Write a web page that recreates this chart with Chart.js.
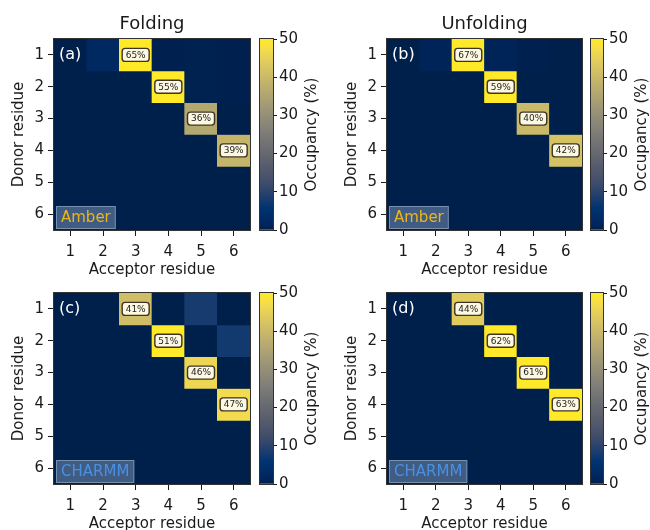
<!DOCTYPE html>
<html>
<head>
<meta charset="utf-8">
<script src="https://cdn.jsdelivr.net/npm/chart.js@4.4.1/dist/chart.umd.min.js"></script>
<style>
  html, body { margin: 0; padding: 0; background: #fff; width: 650px; height: 530px; overflow: hidden; }
  body { position: relative; }
  canvas { position: absolute; }
</style>
</head>
<body>
<script>
// Residue indices along each axis
const ACCEPTORS = ['1', '2', '3', '4', '5', '6'];
const DONORS = [1, 2, 3, 4, 5, 6];
// Colour bar ticks (occupancy, %) – the scale saturates at the last one
const CBAR_TICKS = [0, 10, 20, 30, 40, 50];
// Cells at or above this occupancy get a value label
const LABEL_MIN = 20;

// Hydrogen-bond occupancy (%), rows = donor residue, columns = acceptor residue
const amberFolding = [
  [0, 2.5, 65, 0.4, 0.6, 0.3],
  [0, 0, 0, 55, 0.6, 0.3],
  [0, 0, 0, 0, 36, 0],
  [0, 0, 0, 0, 0, 39],
  [0, 0, 0, 0, 0, 0],
  [0, 0, 0, 0, 0, 0]
];
const amberUnfolding = [
  [0, 1.2, 67, 1.2, 0.3, 0],
  [0, 0, 0, 59, 0, 0],
  [0, 0, 0, 0, 40, 0],
  [0, 0, 0, 0, 0, 42],
  [0, 0, 0, 0, 0, 0],
  [0, 0, 0, 0, 0, 0]
];
const charmmFolding = [
  [0, 0, 41, 0, 8, 0],
  [0, 0, 0, 51, 0, 7.5],
  [0, 0, 0, 0, 46, 0],
  [0, 0, 0, 0, 0, 47],
  [0, 0, 0, 0, 0, 0],
  [0, 0, 0, 0, 0, 0]
];
const charmmUnfolding = [
  [0, 0, 44, 0, 0, 0],
  [0, 0, 0, 62, 0, 0],
  [0, 0, 0, 0, 61, 0],
  [0, 0, 0, 0, 0, 63],
  [0, 0, 0, 0, 0, 0],
  [0, 0, 0, 0, 0, 0]
];

const INK = '#1a1a1a';
const FONT = "'DejaVu Sans', sans-serif";
Chart.defaults.font.family = FONT;
Chart.defaults.color = INK;

// cividis colour map
const CIVIDIS = [
  [0, 32, 76], [0, 42, 102], [0, 52, 112], [32, 62, 110], [60, 74, 107], [76, 85, 107],
  [91, 95, 109], [104, 106, 112], [117, 117, 117], [131, 129, 120], [146, 140, 120],
  [161, 152, 118], [176, 165, 114], [192, 177, 109], [209, 191, 102], [225, 204, 92],
  [243, 219, 79], [255, 233, 40]
];
function cividis(t) {
  t = Math.min(1, Math.max(0, t));
  const n = CIVIDIS.length - 1;
  const f = t * n;
  const i = Math.min(n - 1, Math.floor(f));
  const u = f - i;
  const c = CIVIDIS[i].map((v, k) => Math.round(v + (CIVIDIS[i + 1][k] - v) * u));
  return `rgb(${c[0]},${c[1]},${c[2]})`;
}
const OCC_MAX = CBAR_TICKS[CBAR_TICKS.length - 1];

const PANELS = [
  { letter: '(a)', title: 'Folding', tag: 'Amber', tagColor: '#ebb51c', values: amberFolding,
    heat: { left: 0, top: 0, w: 256, h: 285, plotL: 54, plotR: 250, plotT: 39, plotB: 230 },
    bar: { left: 256, w: 70, plotL: 260, plotR: 273 } },
  { letter: '(b)', title: 'Unfolding', tag: 'Amber', tagColor: '#ebb51c', values: amberUnfolding,
    heat: { left: 326, top: 0, w: 260, h: 285, plotL: 387, plotR: 582, plotT: 39, plotB: 230 },
    bar: { left: 586, w: 64, plotL: 591, plotR: 603 } },
  { letter: '(c)', title: null, tag: 'CHARMM', tagColor: '#4a90e2', values: charmmFolding,
    heat: { left: 0, top: 285, w: 256, h: 255, plotL: 54, plotR: 250, plotT: 293, plotB: 484 },
    bar: { left: 256, w: 70, plotL: 260, plotR: 273 } },
  { letter: '(d)', title: null, tag: 'CHARMM', tagColor: '#4a90e2', values: charmmUnfolding,
    heat: { left: 326, top: 285, w: 260, h: 255, plotL: 387, plotR: 582, plotT: 293, plotB: 484 },
    bar: { left: 586, w: 64, plotL: 591, plotR: 603 } }
];

function makeCanvas(left, top, w, h) {
  const c = document.createElement('canvas');
  c.width = w; c.height = h;
  c.style.left = left + 'px'; c.style.top = top + 'px';
  c.style.width = w + 'px'; c.style.height = h + 'px';
  document.body.appendChild(c);
  return c;
}
function zeroPad(s) {
  s.paddingTop = 0; s.paddingBottom = 0; s.paddingLeft = 0; s.paddingRight = 0;
}
function frame(chart) {
  const { ctx, chartArea: a } = chart;
  ctx.save();
  ctx.strokeStyle = '#333';
  ctx.lineWidth = 1;
  ctx.strokeRect(Math.round(a.left) - 0.5, Math.round(a.top) - 0.5,
                 Math.round(a.width) + 1, Math.round(a.height) + 1);
  ctx.restore();
}

// Base fill, value badges, panel letter, force-field tag and column title for a heat map
function heatDecor(p) {
  return {
    id: 'heatDecor',
    beforeDatasetsDraw(chart) {
      const { ctx, chartArea: a } = chart;
      ctx.save();
      ctx.fillStyle = cividis(0);
      ctx.fillRect(a.left, a.top, a.width, a.height);
      ctx.restore();
    },
    afterDatasetsDraw(chart) {
      const { ctx, chartArea: a } = chart;
      const xs = chart.scales.x, ys = chart.scales.y;
      ctx.save();
      // value badges
      ctx.font = `9px ${FONT}`;
      ctx.textAlign = 'center';
      ctx.textBaseline = 'middle';
      p.values.forEach((row, r) => row.forEach((v, c) => {
        if (v < LABEL_MIN) return;
        const cx = xs.getPixelForValue(c);
        const cy = ys.getPixelForValue(DONORS[r]);
        const txt = Math.round(v) + '%';
        const w = ctx.measureText(txt).width + 7, h = 13;
        ctx.beginPath();
        ctx.roundRect(cx - w / 2, cy - h / 2, w, h, 3);
        ctx.fillStyle = '#fdf8e1';
        ctx.fill();
        ctx.lineWidth = 1.4;
        ctx.strokeStyle = '#3c3526';
        ctx.stroke();
        ctx.fillStyle = '#222';
        ctx.fillText(txt, cx, cy + 0.5);
      }));
      // panel letter
      ctx.font = `16px ${FONT}`;
      ctx.textAlign = 'left';
      ctx.fillStyle = '#fff';
      ctx.fillText(p.letter, a.left + 5, ys.getPixelForValue(DONORS[0]));
      // force-field tag
      ctx.font = `15px ${FONT}`;
      const tw = ctx.measureText(p.tag).width;
      const bw = tw + 10, bh = 23;
      const bx = a.left + 2, by = a.bottom - 1 - bh;
      ctx.fillStyle = 'rgba(176,196,222,0.37)';
      ctx.fillRect(bx, by, bw, bh);
      ctx.strokeStyle = 'rgba(176,196,222,0.5)';
      ctx.lineWidth = 1;
      ctx.strokeRect(bx + 0.5, by + 0.5, bw - 1, bh - 1);
      ctx.fillStyle = p.tagColor;
      ctx.fillText(p.tag, bx + 5, by + bh / 2 + 0.5);
      // column title, centred over the plot area
      if (p.title) {
        ctx.font = `18px ${FONT}`;
        ctx.textAlign = 'center';
        ctx.fillStyle = INK;
        ctx.fillText(p.title, (a.left + a.right) / 2, a.top - 15);
      }
      ctx.restore();
    },
    afterDraw: frame
  };
}

const cbarDecor = {
  id: 'cbarDecor',
  afterDraw(chart) {
    const { ctx, chartArea: a } = chart;
    frame(chart);
    ctx.save();
    ctx.translate(a.right + 39, (a.top + a.bottom) / 2);
    ctx.rotate(-Math.PI / 2);
    ctx.font = `15px ${FONT}`;
    ctx.fillStyle = INK;
    ctx.textAlign = 'center';
    ctx.textBaseline = 'middle';
    ctx.fillText('Occupancy (%)', 0, 0);
    ctx.restore();
  }
};

const tickFont = { size: 15 };
const titleLine = 15 * 1.2;

function heatChart(p) {
  const g = p.heat;
  const canvas = makeCanvas(g.left, g.top, g.w, g.h);
  return new Chart(canvas, {
    type: 'bar',
    data: {
      labels: ACCEPTORS,
      datasets: DONORS.map((d, r) => ({
        label: 'Donor ' + d,
        data: p.values[r].map(() => [d - 0.5, d + 0.5]),
        backgroundColor: p.values[r].map(v => cividis(v / OCC_MAX)),
        borderWidth: 0,
        barPercentage: 1,
        categoryPercentage: 1,
        grouped: false
      }))
    },
    options: {
      responsive: false,
      animation: false,
      devicePixelRatio: 1,
      layout: { padding: { left: 0, right: g.left + g.w - g.plotR, top: g.plotT - g.top, bottom: 0 } },
      plugins: {
        legend: { display: false },
        tooltip: { enabled: false },
        title: { display: false }
      },
      scales: {
        x: {
          type: 'category',
          offset: true,
          grid: { offset: false, drawOnChartArea: false, drawTicks: true, tickLength: 6, color: INK },
          border: { display: false },
          ticks: { font: tickFont, padding: 7, color: INK, maxRotation: 0, autoSkip: false },
          title: {
            display: true, text: 'Acceptor residue', color: INK, font: { size: 15 },
            padding: { top: 0, bottom: g.top + g.h - titleLine / 2 - g.plotB - 40 }
          },
          afterFit: s => { s.height = g.top + g.h - g.plotB; zeroPad(s); }
        },
        y: {
          type: 'linear',
          reverse: true,
          min: DONORS[0] - 0.5,
          max: DONORS[DONORS.length - 1] + 0.5,
          afterBuildTicks: s => { s.ticks = DONORS.map(v => ({ value: v })); },
          grid: { drawOnChartArea: false, drawTicks: true, tickLength: 6, color: INK },
          border: { display: false },
          ticks: { font: tickFont, padding: 4, color: INK, callback: v => String(v) },
          title: {
            display: true, text: 'Donor residue', color: INK, font: { size: 15 },
            padding: { top: g.plotL - 35 - g.left - titleLine / 2, bottom: 0 }
          },
          afterFit: s => { s.width = g.plotL - g.left; zeroPad(s); }
        }
      }
    },
    plugins: [heatDecor(p)]
  });
}

function cbarGradient(chart) {
  const ys = chart.scales.y;
  if (!chart.chartArea || !ys) return cividis(0);
  const y0 = ys.getPixelForValue(CBAR_TICKS[0]);
  const y1 = ys.getPixelForValue(OCC_MAX);
  const grad = chart.ctx.createLinearGradient(0, y0, 0, y1);
  const n = CIVIDIS.length - 1;
  CIVIDIS.forEach((c, i) => grad.addColorStop(i / n, `rgb(${c[0]},${c[1]},${c[2]})`));
  return grad;
}

function colorBar(p) {
  const g = p.heat, b = p.bar;
  const canvas = makeCanvas(b.left, g.top, b.w, g.h);
  return new Chart(canvas, {
    type: 'bar',
    data: {
      labels: ['Occupancy (%)'],
      datasets: [{
        data: [[CBAR_TICKS[0], OCC_MAX]],
        backgroundColor: ctx => cbarGradient(ctx.chart),
        borderWidth: 0,
        barPercentage: 1,
        categoryPercentage: 1
      }]
    },
    options: {
      responsive: false,
      animation: false,
      devicePixelRatio: 1,
      layout: { padding: { left: b.plotL - b.left, right: 0, top: g.plotT - g.top, bottom: g.top + g.h - g.plotB } },
      plugins: { legend: { display: false }, tooltip: { enabled: false } },
      scales: {
        x: { display: false },
        y: {
          position: 'right',
          min: CBAR_TICKS[0],
          max: OCC_MAX,
          afterBuildTicks: s => { s.ticks = CBAR_TICKS.map(v => ({ value: v })); },
          grid: { drawOnChartArea: false, drawTicks: true, tickLength: 4, color: INK },
          border: { display: false },
          ticks: { font: tickFont, padding: 2, color: INK },
          afterFit: s => { s.width = b.left + b.w - b.plotR; zeroPad(s); }
        }
      }
    },
    plugins: [cbarDecor]
  });
}

PANELS.forEach(p => { heatChart(p); colorBar(p); });
</script>
</body>
</html>
